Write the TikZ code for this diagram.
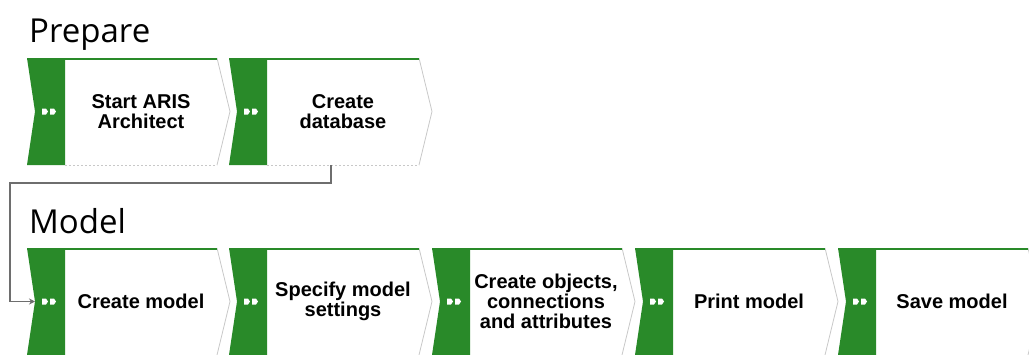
\documentclass[tikz,border=0pt]{standalone}
\usepackage{fontspec}
\usepackage{tikz}
\usetikzlibrary{arrows.meta}
\newfontfamily\headfont{Open Sans}
\newfontfamily\boxfont{Liberation Sans}

\definecolor{arisgreen}{RGB}{41,138,41}
\definecolor{edgegray}{RGB}{200,200,200}
\definecolor{linkgray}{RGB}{110,110,110}

\tikzset{
  functext/.style={align=center, inner sep=0pt,
    font=\boxfont\bfseries\fontsize{20}{20}\selectfont},
  headtext/.style={anchor=base west, inner sep=0pt,
    font=\headfont\fontsize{33}{33}\selectfont},
  link/.style={linkgray, line width=1.5pt, -{Stealth[length=6pt,width=6pt]}},
  % ARIS function box: green band, chevron on the right
  func/.pic={
    \fill[arisgreen] (0,0) -- (38,0) -- (38,107) -- (0,107) -- (8,53.5) -- cycle;
    \draw[edgegray, line width=0.8pt] (190,0) -- (203,53.5) -- (190,107);
    \draw[edgegray, line width=0.8pt, dash pattern=on 2pt off 2pt] (38,107) -- (190,107);
    \draw[arisgreen, line width=2pt] (0,1) -- (190,1);
    \fill[white] (15,50.5) -- (19,50.5) -- (21,53.5) -- (19,56.5) -- (15,56.5) -- cycle;
    \fill[white] (23,50.5) -- (27,50.5) -- (29,53.5) -- (27,56.5) -- (23,56.5) -- cycle;
    \node[functext] (-txt) at (114,53.5) {#1};
    \coordinate (-in) at (8,53.5);
    \coordinate (-bot) at (102,107);
  }
}

\begin{document}
\begin{tikzpicture}[x=1pt, y=-1pt]
    \clip (0,0) rectangle (1029,354);
    \useasboundingbox (0,0) rectangle (1029,354);

    \node[headtext] (prepare) at (29,42) {Prepare};
    \pic (f1) at (27,58) {func={Start ARIS\\Architect}};
    \pic (f2) at (229,58) {func={Create\\database}};

    \node[headtext] (model) at (29,233) {Model};
    \pic (m1) at (27,248) {func={Create model}};
    \pic (m2) at (229,248) {func={Specify model\\settings}};
    \pic (m3) at (432,248) {func={Create objects,\\connections\\and attributes}};
    \pic (m4) at (635,248) {func={Print model}};
    \pic (m5) at (838,248) {func={Save model}};

    \coordinate (bend) at (10,183);
    \draw[link] (f2-bot) |- (bend) |- (m1-in);
\end{tikzpicture}
\end{document}
